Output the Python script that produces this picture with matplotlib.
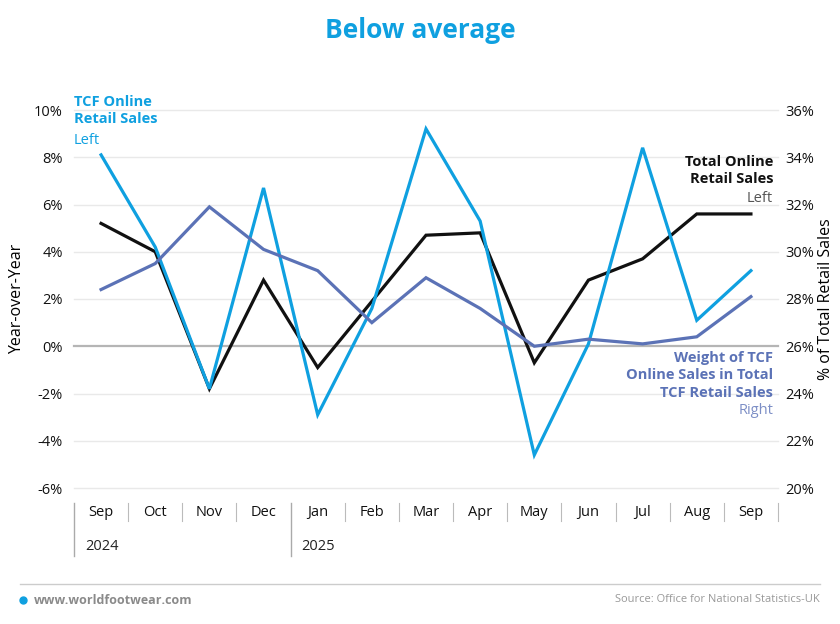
import matplotlib.pyplot as plt
from matplotlib.transforms import blended_transform_factory

plt.rcParams['font.family'] = ['Open Sans', 'DejaVu Sans']

months = ['Sep', 'Oct', 'Nov', 'Dec', 'Jan', 'Feb', 'Mar', 'Apr', 'May', 'Jun', 'Jul', 'Aug', 'Sep']
years = ['2024', '2025']
year_start = [0, 4]

tcf_online = [8.1, 4.2, -1.8, 6.7, -2.9, 1.6, 9.2, 5.3, -4.6, 0.1, 8.4, 1.1, 3.2]
total_online = [5.2, 4.0, -1.8, 2.8, -0.9, 1.9, 4.7, 4.8, -0.7, 2.8, 3.7, 5.6, 5.6]
weight_tcf = [28.4, 29.5, 31.9, 30.1, 29.2, 27.0, 28.9, 27.6, 26.0, 26.3, 26.1, 26.4, 28.1]

left_ticks = [-6, -4, -2, 0, 2, 4, 6, 8, 10]
right_ticks = [20, 22, 24, 26, 28, 30, 32, 34, 36]

BLUE = '#0fa0e0'
BLACK = '#111111'
SLATE = '#5b72b6'
GREY = '#555555'

fig = plt.figure(figsize=(8.4, 6.24), dpi=100)
ax = fig.add_axes([74 / 840, 1 - 488 / 624, 704 / 840, 378 / 624])
ax2 = ax.twinx()

x = list(range(len(months)))

# gridlines
for t in left_ticks:
    ax.axhline(t, color='#b5b5b5' if t == 0 else '#e9e9e9', lw=1.6 if t == 0 else 1.0, zorder=0, clip_on=False)

ax.plot(x, total_online, color=BLACK, lw=2.3, zorder=3, solid_joinstyle='miter')
ax.plot(x, tcf_online, color=BLUE, lw=2.3, zorder=4, solid_joinstyle='miter')
ax2.plot(x, weight_tcf, color=SLATE, lw=2.3, zorder=3, solid_joinstyle='miter')

ax.set_xlim(-0.5, len(months) - 0.5)
ax.set_ylim(-6, 10)
ax2.set_ylim(20, 36)

ax.set_yticks(left_ticks)
ax.set_yticklabels([f'{t}%' for t in left_ticks])
ax2.set_yticks(right_ticks)
ax2.set_yticklabels([f'{t}%' for t in right_ticks])

for a in (ax, ax2):
    for s in a.spines.values():
        s.set_visible(False)
    a.tick_params(axis='y', length=0, labelsize=10.5, colors='#111111')

ax.tick_params(axis='y', pad=8)
ax2.tick_params(axis='y', pad=5)
ax.set_xticks(x)
ax.set_xticklabels(months)
ax.tick_params(axis='x', length=0, labelsize=10.5, pad=12, colors='#111111')

ax.set_ylabel('Year-over-Year', fontsize=11.5)
ax2.set_ylabel('% of Total Retail Sales', fontsize=11.5, rotation=90)
ax.yaxis.set_label_coords(-49 / 704, 0.5)
ax2.yaxis.set_label_coords(1 + 40 / 704, 0.5)

# month separators and year dividers
tr = blended_transform_factory(ax.transData, fig.transFigure)
for i in range(len(months) + 1):
    b = i - 0.5
    if i in year_start:
        ax.plot([b, b], [1 - 503 / 624, 1 - 556 / 624], color='#aaaaaa', lw=1.0, transform=tr, clip_on=False)
    else:
        ax.plot([b, b], [1 - 503 / 624, 1 - 521 / 624], color='#bbbbbb', lw=0.8, transform=tr, clip_on=False)
for yr, s in zip(years, year_start):
    ax.text(s - 0.3, 1 - 547 / 624, yr, transform=tr, fontsize=10.5, color='#222222', va='center', ha='left')

# series labels
tl = blended_transform_factory(ax.transAxes, fig.transFigure)
ax.text(0.0, 1 - 95 / 624, 'TCF Online\nRetail Sales', transform=tl,
        color=BLUE, fontsize=10.5, fontweight='bold', va='top', ha='left', linespacing=1.3)
ax.text(0.0, 1 - 140 / 624, 'Left', transform=tl,
        color=BLUE, fontsize=10.5, va='center', ha='left')

ax.text(773 / 840, 1 - 155 / 624, 'Total Online\nRetail Sales', transform=fig.transFigure,
        color=BLACK, fontsize=10.5, fontweight='bold', va='top', ha='right', linespacing=1.3)
ax.text(773 / 840, 1 - 198 / 624, 'Left', transform=fig.transFigure,
        color=GREY, fontsize=10.5, va='center', ha='right')

ax.text(773 / 840, 1 - 351 / 624, 'Weight of TCF\nOnline Sales in Total\nTCF Retail Sales', transform=fig.transFigure,
        color=SLATE, fontsize=10.5, fontweight='bold', va='top', ha='right', linespacing=1.3)
ax.text(773 / 840, 1 - 410 / 624, 'Right', transform=fig.transFigure,
        color='#7d8fc6', fontsize=10.5, va='center', ha='right')

# title
fig.text(0.5, 1 - 30 / 624, 'Below average', color=BLUE, fontsize=19, fontweight='bold', ha='center', va='center')

# footer
fig.add_artist(plt.Line2D([20 / 840, 820 / 840], [1 - 584 / 624, 1 - 584 / 624], color='#cccccc', lw=1.0))
fig.add_artist(plt.Line2D([23 / 840], [1 - 600 / 624], marker='o', markersize=5, color=BLUE, lw=0))
fig.text(34 / 840, 1 - 600 / 624, 'www.worldfootwear.com', color='#8a8a8a', fontsize=9, fontweight='bold', va='center', ha='left')
fig.text(820 / 840, 1 - 600 / 624, 'Source: Office for National Statistics-UK', color='#999999', fontsize=8, va='center', ha='right')

fig.savefig('out.png', dpi=100)
